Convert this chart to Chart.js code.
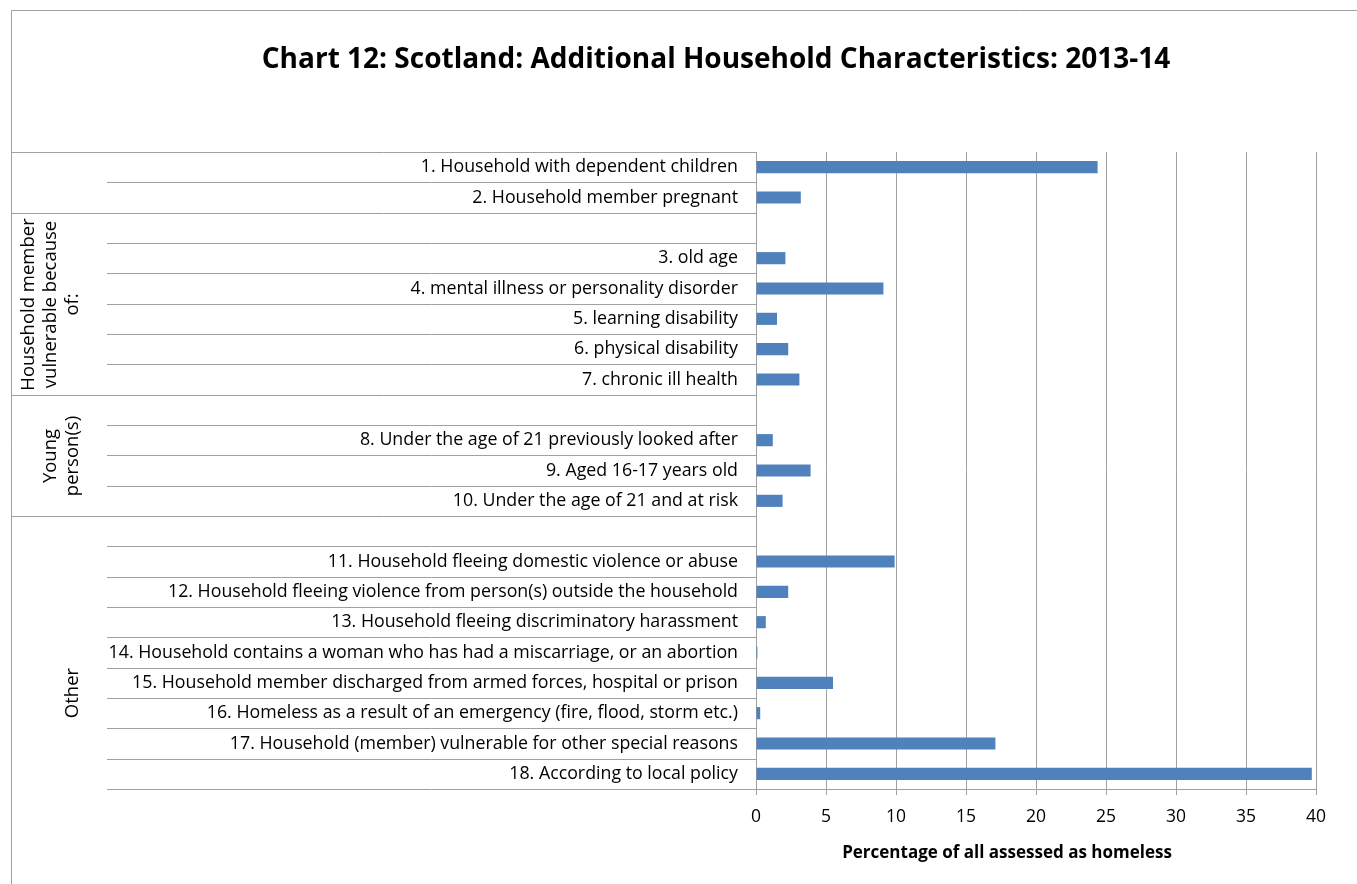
<!DOCTYPE html>
<html>
<head>
<meta charset="utf-8">
<title>Chart 12</title>
<script src="https://cdn.jsdelivr.net/npm/chart.js@4.4.1/dist/chart.umd.min.js"></script>
<style>
  body { margin: 0; background: #fff; }
  #wrap { width: 1357px; height: 884px; position: relative; }
</style>
</head>
<body>
<div id="wrap"><canvas id="chart"></canvas></div>
<script>
const chartTitle = 'Chart 12: Scotland: Additional Household Characteristics: 2013-14';
const axisTitle = 'Percentage of all assessed as homeless';

// blank entries are the spacer rows that open each group
const categories = [
  '1. Household with dependent children',
  '2. Household member pregnant',
  '',
  '3. old age',
  '4. mental illness or personality disorder',
  '5. learning disability',
  '6. physical disability',
  '7. chronic ill health',
  '',
  '8. Under the age of 21 previously looked after',
  '9. Aged 16-17 years old',
  '10. Under the age of 21 and at risk',
  '',
  '11. Household fleeing domestic violence or abuse',
  '12. Household fleeing violence from person(s) outside the household',
  '13. Household fleeing discriminatory harassment',
  '14. Household contains a woman who has had a miscarriage, or an abortion',
  '15. Household member discharged from armed forces, hospital or prison',
  '16. Homeless as a result of an emergency (fire, flood, storm etc.)',
  '17. Household (member) vulnerable for other special reasons',
  '18. According to local policy'
];
const percentages = [24.4, 3.2, null, 2.1, 9.1, 1.5, 2.3, 3.1, null, 1.2, 3.9, 1.9, null, 9.9, 2.3, 0.7, 0.1, 5.5, 0.3, 17.1, 39.7];

// outer category level: label lines and first row of each group
const groupLabels = [[], ['Household member', 'vulnerable because', 'of:'], ['Young', 'person(s)'], ['Other']];
const groupStarts = [0, 2, 8, 12];
const xTicks = [0, 5, 10, 15, 20, 25, 30, 35, 40];

const FONT = '"Open Sans", Lato, sans-serif';
const LINE = '#a0a0a0';

const frame = {
  id: 'frame',
  afterDraw(chart, args, opts) {
    const ctx = chart.ctx;
    const y = chart.scales.y;
    const area = chart.chartArea;
    const rowEdge = i => Math.round(y.getPixelForValue(i - 0.5)) + 0.5;
    ctx.save();
    ctx.strokeStyle = LINE;
    ctx.lineWidth = 1;

    // chart border (left and top edges)
    ctx.beginPath();
    ctx.moveTo(11.5, chart.height);
    ctx.lineTo(11.5, 10.5);
    ctx.lineTo(chart.width, 10.5);
    ctx.stroke();

    // row separators in the label area, group separators run to the border
    for (let i = 0; i <= categories.length; i++) {
      const py = rowEdge(i);
      const x0 = groupStarts.includes(i) ? 11 : opts.innerLeft;
      ctx.beginPath();
      ctx.moveTo(x0, py);
      ctx.lineTo(area.left, py);
      ctx.stroke();
    }

    // rotated group names
    ctx.fillStyle = '#000';
    ctx.font = '18.5px ' + FONT;
    ctx.textAlign = 'center';
    ctx.textBaseline = 'middle';
    groupStarts.forEach((start, g) => {
      const lines = groupLabels[g];
      if (!lines.length) return;
      const end = g + 1 < groupStarts.length ? groupStarts[g + 1] : categories.length;
      const cy = (rowEdge(start) + rowEdge(end)) / 2 + (opts.shift[g] || 0);
      lines.forEach((txt, k) => {
        const cx = opts.lastLineX - (lines.length - 1 - k) * opts.lineGap;
        ctx.save();
        ctx.translate(cx, cy);
        ctx.rotate(-Math.PI / 2);
        ctx.fillText(txt, 0, 0);
        ctx.restore();
      });
    });

    // chart title and value-axis title
    ctx.font = 'bold 28px ' + FONT;
    ctx.fillText(chartTitle, 716, 60);
    ctx.font = 'bold 17px ' + FONT;
    ctx.fillText(axisTitle, opts.axisTitleX, 853);
    ctx.restore();
  }
};

new Chart(document.getElementById('chart'), {
  type: 'bar',
  data: {
    labels: categories,
    datasets: [{
      data: percentages,
      backgroundColor: '#4f81bd',
      borderWidth: 0,
      barPercentage: 0.4,
      categoryPercentage: 1
    }]
  },
  options: {
    indexAxis: 'y',
    responsive: true,
    maintainAspectRatio: false,
    animation: false,
    layout: { padding: { top: 152, right: 41, bottom: 0, left: 0 } },
    plugins: {
      legend: { display: false },
      tooltip: { enabled: false },
      frame: { innerLeft: 107, lastLineX: 73, lineGap: 22, shift: { 3: 40 }, axisTitleX: 1007 }
    },
    scales: {
      x: {
        min: 0,
        max: 40,
        afterBuildTicks: s => { s.ticks = xTicks.map(v => ({ value: v })); },
        afterFit: s => { s.height = 95; },
        grid: { color: LINE, tickLength: 6, drawTicks: true },
        border: { color: LINE },
        ticks: { color: '#000', padding: 12, font: { family: FONT, size: 17.5 } }
      },
      y: {
        afterFit: s => { s.width = 756; },
        grid: { display: false },
        border: { display: false },
        ticks: { color: '#000', padding: 10, autoSkip: false, font: { family: FONT, size: 17.8 } }
      }
    }
  },
  plugins: [frame]
});
</script>
</body>
</html>
